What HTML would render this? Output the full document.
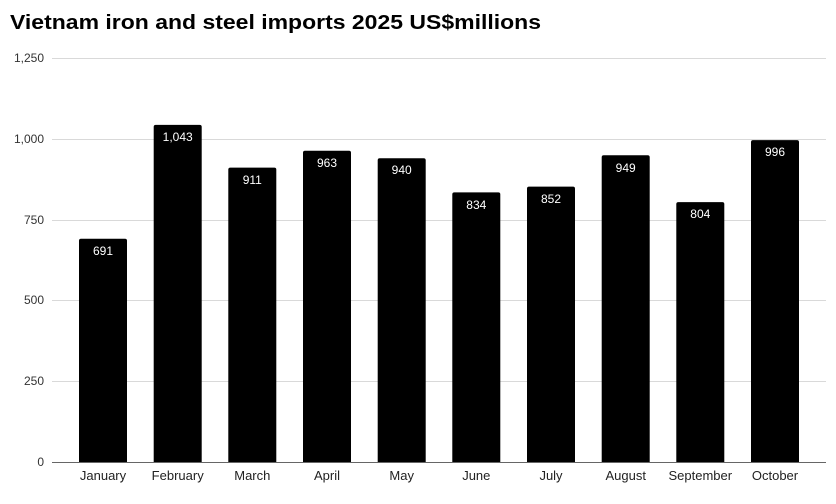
<!DOCTYPE html>
<html><head><meta charset="utf-8"><style>
html,body{margin:0;padding:0;background:#fff}
svg{display:block;font-family:"Liberation Sans",Arial,sans-serif}
</style></head><body>
<svg width="836" height="504" viewBox="0 0 836 504">
<text x="10" y="29" font-size="20" font-weight="bold" fill="#000" textLength="531" lengthAdjust="spacingAndGlyphs">Vietnam iron and steel imports 2025 US$millions</text>
<g stroke="#d9d9d9" stroke-width="1">
<line x1="52" x2="826" y1="58.5" y2="58.5"/>
<line x1="52" x2="826" y1="139.5" y2="139.5"/>
<line x1="52" x2="826" y1="220.5" y2="220.5"/>
<line x1="52" x2="826" y1="300.5" y2="300.5"/>
<line x1="52" x2="826" y1="381.5" y2="381.5"/>
</g>
<g font-size="12" fill="#333" text-anchor="end">
<text x="44" y="62">1,250</text>
<text x="44" y="143">1,000</text>
<text x="44" y="224">750</text>
<text x="44" y="304">500</text>
<text x="44" y="385">250</text>
<text x="44" y="466">0</text>
</g>
<g fill="#000">
<path d="M79,462V240.7a2,2 0 0 1 2,-2h44a2,2 0 0 1 2,2V462Z"/>
<path d="M153.7,462V126.9a2,2 0 0 1 2,-2h44a2,2 0 0 1 2,2V462Z"/>
<path d="M228.3,462V169.6a2,2 0 0 1 2,-2h44a2,2 0 0 1 2,2V462Z"/>
<path d="M303,462V152.8a2,2 0 0 1 2,-2h44a2,2 0 0 1 2,2V462Z"/>
<path d="M377.7,462V160.2a2,2 0 0 1 2,-2h44a2,2 0 0 1 2,2V462Z"/>
<path d="M452.3,462V194.4a2,2 0 0 1 2,-2h44a2,2 0 0 1 2,2V462Z"/>
<path d="M527,462V188.6a2,2 0 0 1 2,-2h44a2,2 0 0 1 2,2V462Z"/>
<path d="M601.7,462V157.3a2,2 0 0 1 2,-2h44a2,2 0 0 1 2,2V462Z"/>
<path d="M676.3,462V204.1a2,2 0 0 1 2,-2h44a2,2 0 0 1 2,2V462Z"/>
<path d="M751,462V142.1a2,2 0 0 1 2,-2h44a2,2 0 0 1 2,2V462Z"/>
</g>
<line x1="52" x2="826" y1="462.5" y2="462.5" stroke="#666" stroke-width="1"/>
<g font-size="12" fill="#fff" text-anchor="middle">
<text x="103" y="255">691</text>
<text x="177.7" y="141">1,043</text>
<text x="252.3" y="184">911</text>
<text x="327" y="167">963</text>
<text x="401.7" y="174">940</text>
<text x="476.3" y="209">834</text>
<text x="551" y="203">852</text>
<text x="625.7" y="172">949</text>
<text x="700.3" y="218">804</text>
<text x="775" y="156">996</text>
</g>
<g font-size="13" fill="#222" text-anchor="middle">
<text x="103" y="480">January</text>
<text x="177.7" y="480">February</text>
<text x="252.3" y="480">March</text>
<text x="327" y="480">April</text>
<text x="401.7" y="480">May</text>
<text x="476.3" y="480">June</text>
<text x="551" y="480">July</text>
<text x="625.7" y="480">August</text>
<text x="700.3" y="480">September</text>
<text x="775" y="480">October</text>
</g>
</svg>
</body></html>
